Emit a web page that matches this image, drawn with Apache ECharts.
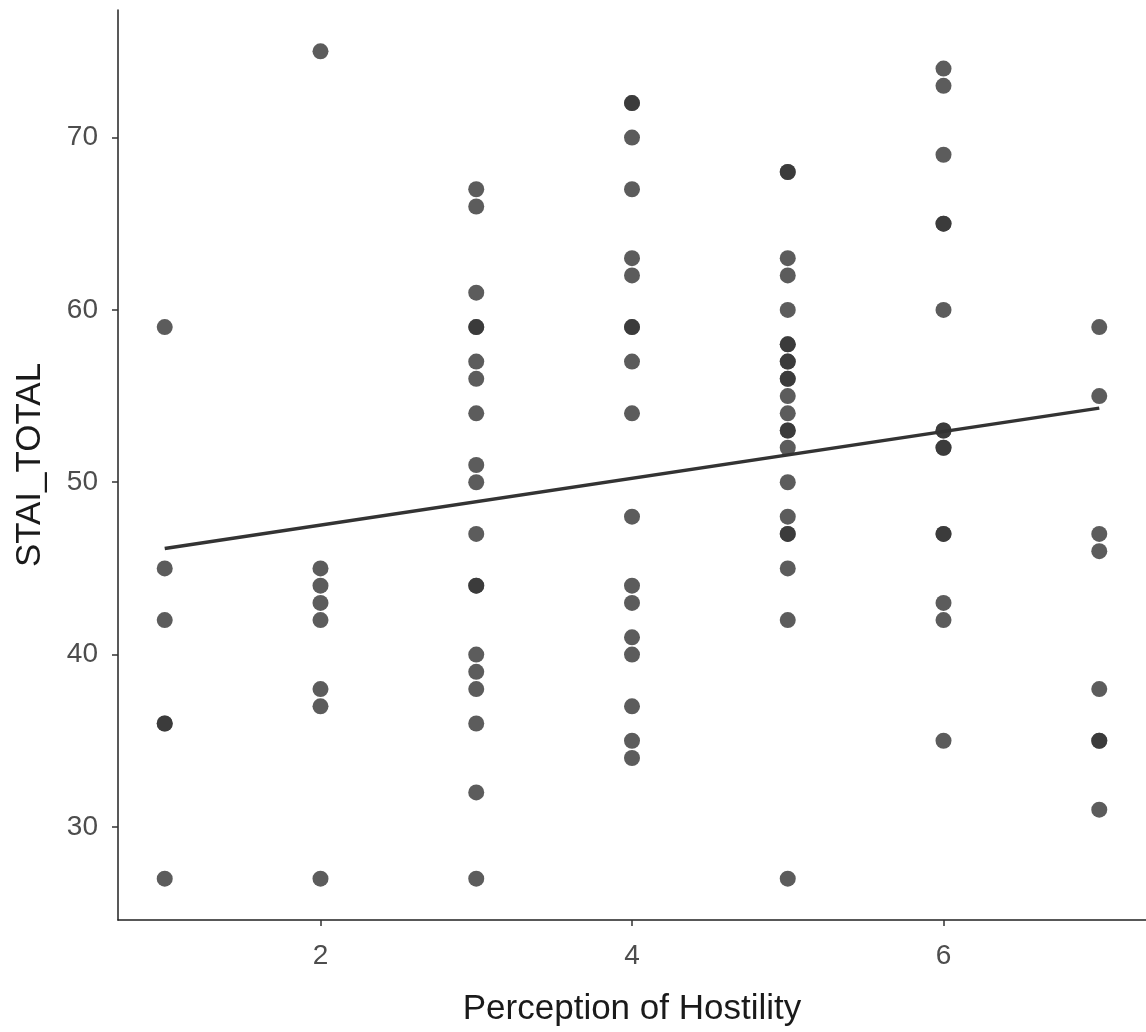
<!DOCTYPE html>
<html>
<head>
<meta charset="utf-8">
<script src="https://cdn.jsdelivr.net/npm/echarts@6/dist/echarts.min.js"></script>
<style>
  html, body { margin: 0; padding: 0; background: #fff; }
  #chart { width: 1146px; height: 1032px; }
</style>
</head>
<body>
<div id="chart"></div>
<script>
// === DATA ===
// STAI_TOTAL values per level of Perception of Hostility (repeated values = overlapping points)
const hostilityLevels = [1, 2, 3, 4, 5, 6, 7];
const stai1 = [59, 45, 42, 36, 36, 27];
const stai2 = [75, 45, 44, 43, 42, 38, 37, 27];
const stai3 = [67, 66, 61, 59, 59, 57, 56, 54, 51, 50, 47, 44, 44, 40, 39, 38, 36, 32, 27];
const stai4 = [72, 72, 70, 67, 63, 62, 59, 59, 57, 54, 48, 44, 43, 41, 40, 37, 35, 34];
const stai5 = [68, 68, 63, 62, 60, 58, 58, 57, 57, 56, 56, 55, 54, 53, 53, 52, 50, 48, 47, 47, 45, 42, 27];
const stai6 = [74, 73, 69, 65, 65, 60, 53, 53, 52, 52, 47, 47, 43, 42, 35];
const stai7 = [59, 55, 47, 46, 38, 35, 35, 31];

// fitted line end points
const fitX = [1, 7];
const fitY = [46.15, 54.3];

// tick labels
const xTicks = [2, 4, 6];
const yTicks = [30, 40, 50, 60, 70];

// === BUILD ===
const groups = [stai1, stai2, stai3, stai4, stai5, stai6, stai7];
const points = [];
groups.forEach((vals, i) => {
    vals.forEach(v => points.push([hostilityLevels[i], v]));
});
const fitLine = fitX.map((x, i) => [x, fitY[i]]);

const chart = echarts.init(document.getElementById('chart'), null, { renderer: 'canvas' });

const axisCommon = {
    type: 'value',
    splitLine: { show: false },
    axisLine: { show: true, onZero: false, lineStyle: { color: '#222', width: 1.5 } },
    axisTick: { show: true, length: 6, lineStyle: { color: '#333', width: 1.5 } },
    nameLocation: 'middle',
    nameTextStyle: { fontFamily: 'Liberation Sans', fontSize: 35, color: '#1a1a1a' }
};

const option = {
    backgroundColor: '#fff',
    animation: false,
    grid: { left: 118, right: 0, top: 10, bottom: 112, containLabel: false },
    xAxis: Object.assign({}, axisCommon, {
        min: 0.7,
        max: 7.3,
        name: 'Perception of Hostility',
        nameGap: 72,
        axisTick: Object.assign({}, axisCommon.axisTick, { customValues: xTicks }),
        axisLabel: {
            customValues: xTicks,
            margin: 22,
            fontFamily: 'Liberation Sans',
            fontSize: 28,
            color: '#4d4d4d'
        }
    }),
    yAxis: Object.assign({}, axisCommon, {
        min: 24.6,
        max: 77.4,
        name: 'STAI_TOTAL',
        nameGap: 70,
        nameRotate: 90,
        axisTick: Object.assign({}, axisCommon.axisTick, { customValues: yTicks }),
        axisLabel: {
            customValues: yTicks,
            margin: 20,
            fontFamily: 'Liberation Sans',
            fontSize: 28,
            color: '#4d4d4d'
        }
    }),
    series: [
        {
            type: 'scatter',
            data: points,
            symbol: 'circle',
            symbolSize: 16,
            itemStyle: { color: '#333', opacity: 0.8 },
            z: 2
        },
        {
            type: 'line',
            data: fitLine,
            symbol: 'none',
            lineStyle: { color: '#333', width: 3.5 },
            z: 3
        }
    ]
};

chart.setOption(option);
</script>
</body>
</html>
